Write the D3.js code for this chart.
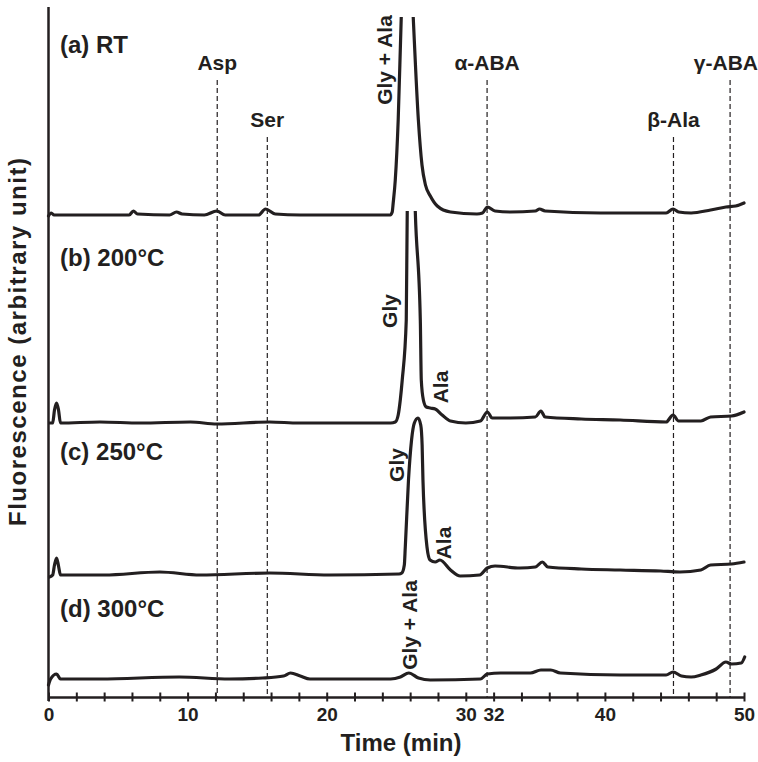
<!DOCTYPE html>
<html>
<head>
<meta charset="utf-8">
<script src="https://cdn.jsdelivr.net/npm/d3@7"></script>
<style>
  body { margin: 0; background: #fff; }
  text { font-family: "Liberation Sans", Arial, sans-serif; font-weight: bold; fill: #231f20; }
</style>
</head>
<body>
<div id="chart"></div>
<script>
// chromatogram traces, [time (min), signal above own baseline]
const traceRT = [
  [0.0, -1], [0.2, 2], [0.4, 0], [5.8, 0], [6.1, 4], [6.4, 1], [8.7, 0], [9.2, 3], [9.6, 1],
  [11.2, 0], [12.1, 4], [12.7, 0], [15.1, 0], [15.6, 6], [16.3, 1], [18.1, 0], [24.57, 0],
  [24.71, 3], [24.78, 12], [24.93, 35], [25.14, 95], [25.36, 198], [25.8, 330], [26.22, 198],
  [26.59, 95], [26.85, 50], [27.1, 30], [27.45, 19], [27.95, 9], [28.9, 3], [30.8, 1], [31.2, 2],
  [31.55, 8], [32.1, 4], [33.2, 3], [35.0, 4], [35.3, 6], [35.7, 4], [39.7, 2], [44.4, 2],
  [44.9, 6], [45.3, 3], [46.2, 2], [47.6, 5], [48.7, 8], [49.4, 9], [50.0, 12]
];
const trace200 = [
  [0.07, 0], [0.3, 0], [0.43, 13], [0.58, 20], [0.72, 13], [0.86, 0], [3.7, 1], [6.6, 0],
  [10.2, 1], [12.1, -1], [15.9, 1], [18.0, 0], [24.6, 0], [24.93, 1], [25.14, 8], [25.29, 23],
  [25.43, 43], [25.72, 103], [25.79, 211], [26.15, 330], [26.37, 211], [26.73, 103],
  [26.8, 43], [26.95, 23], [27.16, 16], [27.45, 15], [27.8, 14], [28.3, 8], [28.9, 2],
  [30.0, 0], [31.05, 2], [31.55, 11], [31.9, 5], [33.2, 5], [35.0, 6], [35.4, 12], [35.7, 6],
  [38.3, 4], [41.1, 3], [44.4, 1], [44.9, 8], [45.3, 2], [46.9, 2], [47.6, 6], [49.1, 7],
  [50.0, 11]
];
const trace250 = [
  [0.07, -2], [0.3, 0], [0.43, 10], [0.58, 17], [0.72, 9], [0.86, 0], [4.0, 0], [8.0, 3],
  [10.9, 0], [15.9, 2], [20.2, 0], [25.2, 1], [25.4, 2], [25.58, 10], [25.65, 28], [25.88, 95],
  [26.1, 135], [26.3, 152], [26.56, 157], [26.76, 150], [26.86, 130], [26.92, 95], [27.21, 28],
  [27.43, 15], [27.8, 13], [28.14, 15], [28.9, 5], [29.6, -1], [31.0, 0], [31.55, 7],
  [32.1, 9], [33.9, 7], [35.0, 8], [35.5, 13], [35.9, 8], [38.3, 6], [41.1, 5], [44.0, 4],
  [45.4, 3], [46.9, 5], [47.6, 10], [49.1, 11], [50.0, 13]
];
const trace300 = [
  [0.0, -6], [0.15, 0], [0.58, 5], [0.86, 0], [3.7, 0], [9.4, 2], [13.0, 0], [15.4, 1],
  [16.9, 3], [17.4, 6], [18.1, 3], [18.8, 0], [24.6, 0], [25.3, 2], [25.9, 6], [26.6, 1],
  [27.45, -1], [31.05, 0], [31.55, 5], [32.5, 6], [34.65, 6], [35.4, 9], [36.1, 9], [36.8, 6],
  [41.1, 4], [44.4, 4], [44.9, 7], [45.5, 3], [46.2, 2], [46.9, 4], [48.0, 10], [48.7, 17],
  [49.1, 15], [49.8, 16], [50.05, 22]
];
const traces = [traceRT, trace200, trace250, trace300];
const traceOffsets = [482, 274, 122, 18];
const panelNames = ["(a) RT", "(b) 200°C", "(c) 250°C", "(d) 300°C"];

// reference amino acids and their retention times
const markerNames = ["Asp", "Ser", "α-ABA", "β-Ala", "γ-ABA"];
const markerTimes = [12.13, 15.73, 31.53, 44.93, 49.0];

const xTicks = [0, 10, 20, 30, 32, 40, 50];

const width = 758;
const height = 762;

const x = d3.scaleLinear().domain([0, 50]).range([48.5, 744]);
const y = d3.scaleLinear().domain([0, 690]).range([697, 7]);

const svg = d3
  .select("#chart")
  .append("svg")
  .attr("width", width)
  .attr("height", height);

// dashed marker lines
const markerTop = [617, 560, 617, 560, 617];
svg
  .selectAll(".marker")
  .data(markerTimes)
  .enter()
  .append("line")
  .attr("class", "marker")
  .attr("x1", (d) => x(d))
  .attr("x2", (d) => x(d))
  .attr("y1", (d, i) => y(markerTop[i]))
  .attr("y2", y(0))
  .attr("stroke", "#231f20")
  .attr("stroke-width", 1.2)
  .attr("stroke-dasharray", "5,3");

const labelShift = [0, 0, 0, 0, -0.3];
svg
  .selectAll(".marker-label")
  .data(markerNames)
  .enter()
  .append("text")
  .attr("class", "marker-label")
  .attr("x", (d, i) => x(markerTimes[i] + labelShift[i]))
  .attr("y", (d, i) => y(markerTop[i] + 10))
  .attr("text-anchor", "middle")
  .style("font-size", "21px")
  .text((d) => d);

// each trace is cut off at the baseline of the one above it
const clipTop = [680, 486, 690, 690];
const defs = svg.append("defs");
traces.forEach((t, i) => {
  defs
    .append("clipPath")
    .attr("id", `clip${i}`)
    .append("rect")
    .attr("x", 0)
    .attr("y", y(clipTop[i]))
    .attr("width", width)
    .attr("height", y(0) - y(clipTop[i]));
});

traces.forEach((t, i) => {
  const line = d3
    .line()
    .x((d) => x(d[0]))
    .y((d) => y(d[1] + traceOffsets[i]))
    .curve(d3.curveMonotoneX);
  svg
    .append("path")
    .datum(t)
    .attr("clip-path", `url(#clip${i})`)
    .attr("d", line)
    .attr("fill", "none")
    .attr("stroke", "#231f20")
    .attr("stroke-width", 3.2)
    .attr("stroke-linejoin", "round")
    .attr("stroke-linecap", "round");
});

// panel names
const panelY = [644, 431, 237, 80];
svg
  .selectAll(".panel")
  .data(panelNames)
  .enter()
  .append("text")
  .attr("class", "panel")
  .attr("x", x(0.83))
  .attr("y", (d, i) => y(panelY[i]))
  .style("font-size", "24px")
  .text((d) => d);

// rotated peak labels
const peakLabels = [
  { text: "Gly + Ala", t: 24.69, v: 637 },
  { text: "Gly", t: 25.05, v: 386 },
  { text: "Ala", t: 28.72, v: 310 },
  { text: "Gly", t: 25.56, v: 232 },
  { text: "Ala", t: 28.94, v: 154 },
  { text: "Gly + Ala", t: 26.49, v: 72 }
];
svg
  .selectAll(".peak")
  .data(peakLabels)
  .enter()
  .append("text")
  .attr("class", "peak")
  .attr("transform", (d) => `translate(${x(d.t)},${y(d.v)}) rotate(-90)`)
  .attr("text-anchor", "middle")
  .style("font-size", "21px")
  .text((d) => d.text);

// x axis with crossing ticks every 2 min
const xAxis = d3
  .axisBottom(x)
  .tickValues(d3.range(0, 51, 2))
  .tickFormat((d) => (xTicks.includes(d) ? d : ""))
  .tickSizeOuter(0);

const gx = svg
  .append("g")
  .attr("transform", `translate(0,${y(0)})`)
  .call(xAxis);
gx.select(".domain").attr("stroke", "#231f20").attr("stroke-width", 2.5);
gx.selectAll(".tick line")
  .attr("y1", -4.5)
  .attr("y2", 4.5)
  .attr("stroke", "#231f20")
  .attr("stroke-width", 2);
gx.selectAll(".tick text")
  .attr("y", 11)
  .style("font-size", "19px")
  .attr("fill", "#231f20");

// y axis: a plain line, no ticks
svg
  .append("line")
  .attr("x1", x(0))
  .attr("x2", x(0))
  .attr("y1", y(690))
  .attr("y2", y(0) + 4)
  .attr("stroke", "#231f20")
  .attr("stroke-width", 2.5);

svg
  .append("text")
  .attr("x", 401)
  .attr("y", 751)
  .attr("text-anchor", "middle")
  .style("font-size", "24px")
  .text("Time (min)");

svg
  .append("text")
  .attr("transform", `translate(26,${y(355)}) rotate(-90)`)
  .attr("text-anchor", "middle")
  .attr("textLength", 368)
  .attr("lengthAdjust", "spacing")
  .style("font-size", "24px")
  .text("Fluorescence (arbitrary unit)");
</script>
</body>
</html>
